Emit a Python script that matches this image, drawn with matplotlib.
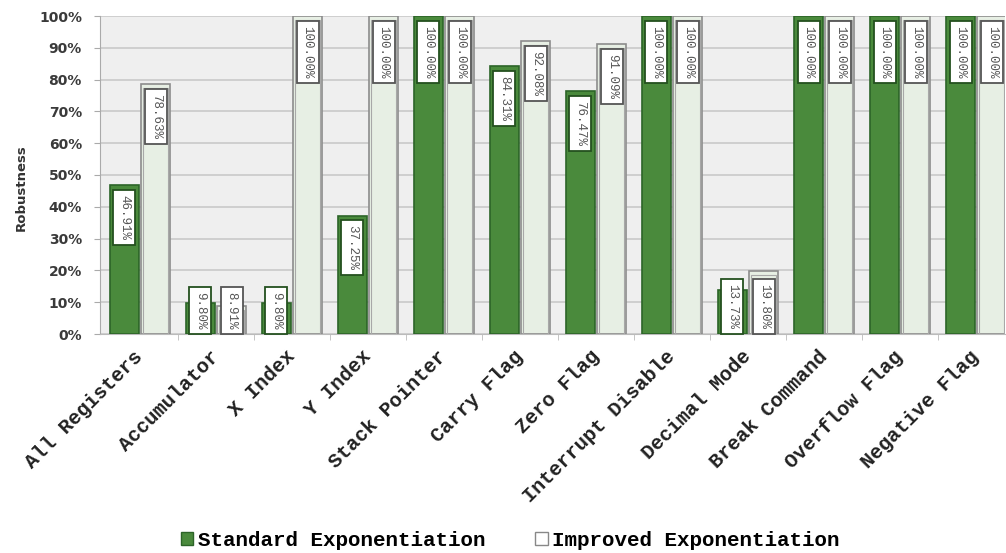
import matplotlib
matplotlib.use("Agg")
import matplotlib.pyplot as plt
from matplotlib.patches import Patch
import numpy as np

categories = ["All Registers", "Accumulator", "X Index", "Y Index", "Stack Pointer",
              "Carry Flag", "Zero Flag", "Interrupt Disable", "Decimal Mode",
              "Break Command", "Overflow Flag", "Negative Flag"]
standard = [46.91, 9.80, 9.80, 37.25, 100.00, 84.31, 76.47, 100.00, 13.73, 100.00, 100.00, 100.00]
improved = [78.63, 8.91, 100.00, 100.00, 100.00, 92.08, 91.09, 100.00, 19.80, 100.00, 100.00, 100.00]
series_names = ["Standard Exponentiation", "Improved Exponentiation"]
yticks = list(range(0, 101, 10))

STD_FILL, STD_EDGE = "#4a8a3c", "#2c6428"
IMP_FILL, IMP_EDGE = "#e7efe4", "#8c8c8c"
MONO = "Liberation Mono"

W, H = 1006, 553
fig = plt.figure(figsize=(W / 100, H / 100), dpi=100)
fig.patch.set_facecolor("white")
ax = fig.add_axes([100 / W, (H - 334) / H, 905 / W, (334 - 16) / H])
ax.set_facecolor("#efefef")

x = np.arange(len(categories))
off, bw = 0.205, 0.385
ax.bar(x - off, standard, bw, color=STD_FILL, edgecolor=STD_EDGE, linewidth=1.2, zorder=3)
ax.bar(x + off, improved, bw, color=IMP_FILL, edgecolor=IMP_EDGE, linewidth=1.2, zorder=3)
# inner outline of the light bars (double-border look)
ax.bar(x + off, np.array(improved) - 1.3, bw - 0.06, color="none", edgecolor="#a8a8a8",
       linewidth=0.8, zorder=3.5)

# value labels, rotated, in small boxed tags
def tag(xpos, val, edge):
    txt = f"{val:.2f}%"
    kw = dict(rotation=-90, ha="center", fontsize=9, family=MONO, color="#555555",
              zorder=5, textcoords="offset points",
              bbox=dict(boxstyle="square,pad=0.4", facecolor="white", edgecolor=edge, linewidth=1.3))
    if val >= 20:
        ax.annotate(txt, (xpos, val), xytext=(0, -7), va="top", **kw)
    else:
        ax.annotate(txt, (xpos, 0), xytext=(0, 3.5), va="bottom", **kw)

for i in range(len(categories)):
    tag(x[i] - off, standard[i], "#24501f")
    tag(x[i] + off, improved[i], "#555555")

ax.set_ylim(0, 100)
ax.set_xlim(-0.526, 11.38)
ax.set_yticks(yticks)
ax.set_yticklabels([f"{t}%" for t in yticks], fontsize=10, fontweight="bold", color="#3a3a3a")
ax.yaxis.grid(True, color="#c9c9c9", linewidth=1.2, zorder=0)
ax.set_axisbelow(True)

ax.set_xticks(x)
ax.set_xticklabels(categories, rotation=45, ha="right", va="center", rotation_mode="anchor",
                   fontsize=14.5, fontweight="bold", family=MONO, color="#222222")
ax.tick_params(axis="x", length=0, pad=14)
ax.set_xticks(x[:-1] + 0.5, minor=True)
ax.tick_params(axis="x", which="minor", length=4, color="#bbbbbb")
ax.tick_params(axis="y", length=4, color="#aaaaaa", pad=9)

for s in ["top", "right"]:
    ax.spines[s].set_visible(False)
ax.spines["left"].set_color("#aaaaaa")
ax.spines["bottom"].set_color("#bbbbbb")

fig.text(21 / W, (H - 188) / H, "Robustness", rotation=90, ha="center", va="center",
         fontsize=9.5, fontweight="bold", color="#333333")

handles = [Patch(facecolor=STD_FILL, edgecolor=STD_EDGE),
           Patch(facecolor="white", edgecolor="#888888")]
fig.legend(handles, series_names, loc="center", bbox_to_anchor=(510 / W, (H - 540) / H), ncol=2,
           frameon=False, prop=dict(family=MONO, weight="bold", size=15),
           handlelength=0.6, handleheight=0.6, handletextpad=0.2, columnspacing=2.4)

fig.savefig("out.png", dpi=100)
